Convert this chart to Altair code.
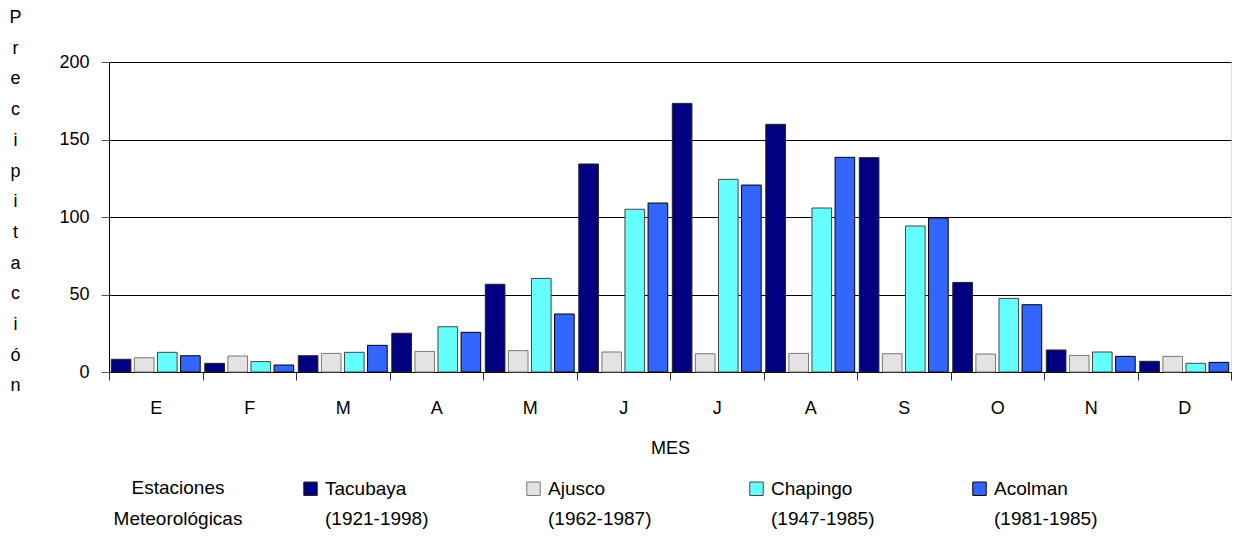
import altair as alt
import pandas as pd

months = ["E", "F", "M", "A", "M", "J", "J", "A", "S", "O", "N", "D"]
stations = ["Tacubaya", "Ajusco", "Chapingo", "Acolman"]
periods = ["(1921-1998)", "(1962-1987)", "(1947-1985)", "(1981-1985)"]

tacubaya = [8.2, 5.6, 10.5, 25.0, 56.6, 134.2, 173.3, 159.8, 138.3, 57.8, 14.2, 6.9]
ajusco = [9.2, 10.3, 12.0, 13.3, 13.8, 12.9, 11.8, 12.0, 11.8, 11.6, 10.7, 10.1]
chapingo = [12.7, 6.7, 12.7, 29.2, 60.4, 105.0, 124.3, 105.8, 94.2, 47.5, 12.9, 5.6]
acolman = [10.5, 4.5, 17.2, 25.6, 37.4, 109.0, 120.6, 138.5, 99.4, 43.4, 10.1, 6.2]

series = {"Tacubaya": tacubaya, "Ajusco": ajusco, "Chapingo": chapingo, "Acolman": acolman}
rows = []
for st in stations:
    for i, v in enumerate(series[st]):
        rows.append({"mes": i, "estacion": st, "valor": v})
df = pd.DataFrame(rows)

FONT = "Liberation Sans"

month_expr = "[" + ",".join("'%s'" % m for m in months) + "][datum.value]"

# legend domain: station names in row 1, observation periods in row 2
legend_domain = stations + periods
fill_range = ["#000080", "#E3E3E3", "#66FFFF", "#3366FF"] + ["transparent"] * 4
stroke_range = ["#222222", "#777777", "#444444", "#000000"] + ["transparent"] * 4
width_range = [1, 1, 1, 2.4] + [0] * 4

ytitle = list("Precipitación")

chart = alt.Chart(df).mark_bar().encode(
    x=alt.X(
        "mes:O",
        scale=alt.Scale(paddingInner=0, paddingOuter=0),
        axis=alt.Axis(
            title="MES",
            labelExpr=month_expr,
            labelAngle=0,
            tickBand="extent",
            tickSize=8,
            tickColor="#333333",
            domainColor="black",
            labelFontSize=18,
            labelPadding=19,
            labelFont=FONT,
            labelColor="black",
            titleFont=FONT,
            titleFontSize=18,
            titleFontWeight="normal",
            titleColor="black",
            titlePadding=22,
        ),
    ),
    xOffset=alt.XOffset(
        "estacion:N",
        sort=stations,
        scale=alt.Scale(domain=stations, paddingInner=0.15, paddingOuter=0.1),
    ),
    y=alt.Y(
        "valor:Q",
        scale=alt.Scale(domain=[0, 200]),
        axis=alt.Axis(
            values=[0, 50, 100, 150, 200],
            title=ytitle,
            titleAngle=0,
            titleAlign="center",
            titleBaseline="top",
            titleX=-94,
            titleY=-53.5,
            titleLineHeight=30.7,
            titleFont=FONT,
            titleFontSize=18,
            titleFontWeight="normal",
            titleColor="black",
            grid=True,
            gridColor="black",
            gridWidth=1,
            tickSize=8,
            tickColor="#555555",
            domainColor="black",
            labelFont=FONT,
            labelFontSize=18,
            labelColor="black",
            labelPadding=12,
        ),
    ),
    fill=alt.Fill(
        "estacion:N",
        scale=alt.Scale(domain=legend_domain, range=fill_range),
        legend=alt.Legend(
            orient="none",
            legendX=5,
            legendY=417,
            direction="horizontal",
            columns=4,
            title=["Estaciones", "Meteorológicas"],
            titleOrient="left",
            titleAlign="center",
            titleFont=FONT,
            titleFontSize=19,
            titleFontWeight="normal",
            titleColor="black",
            titleLineHeight=31,
            titlePadding=-6,
            labelFont=FONT,
            labelFontSize=19,
            labelColor="black",
            labelOffset=5,
            symbolType="square",
            symbolSize=180,
            columnPadding=95,
            rowPadding=10,
        ),
    ),
    stroke=alt.Stroke(
        "estacion:N",
        scale=alt.Scale(domain=legend_domain, range=stroke_range),
    ),
    strokeWidth=alt.StrokeWidth(
        "estacion:N",
        scale=alt.Scale(domain=legend_domain, range=width_range),
    ),
).properties(
    width=1122,
    height=310,
    padding={"left": 0, "top": 0, "right": 0, "bottom": 0},
).configure_view(
    stroke="black", strokeWidth=1
).configure(
    background="white"
)

chart.save("out.html", embed_options={"renderer": "svg", "actions": False})
